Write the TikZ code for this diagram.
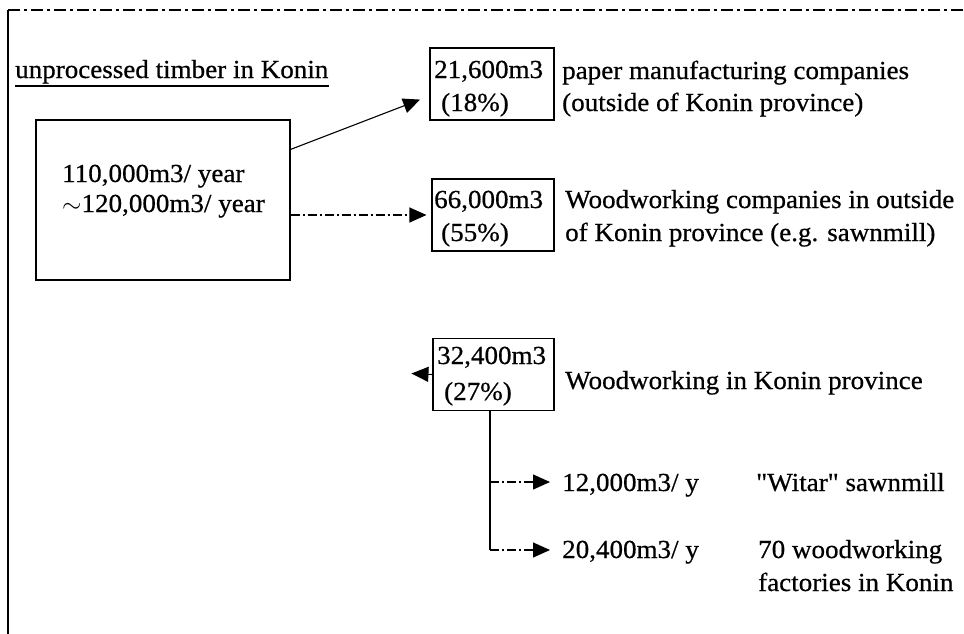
\documentclass[tikz,border=0pt]{standalone}
\usepackage{fontspec}
\setmainfont{Liberation Serif}[FakeStretch=1.04, FakeBold=0.6]
\usetikzlibrary{arrows.meta,calc}
\begin{document}
\begin{tikzpicture}[x=1pt,y=-1pt,
  every node/.style={inner sep=0pt, font=\fontsize{26}{30}\selectfont},
  txt/.style={anchor=base west},
  boxnode/.style={draw, line width=1.1pt, minimum height=72pt},
  tip/.style={-{Triangle[length=17pt,width=15pt]}},
  dsh/.style={dash pattern=on 9pt off 3pt on 2pt off 3pt},
  conn/.style={line width=1.1pt},
  ]
\useasboundingbox (0,0) rectangle (964,634);
% frame lines
\coordinate (tl) at (8,10);
\coordinate (tr) at (964,10);
\coordinate (bl) at (8,634);
\draw[line width=1.2pt, dash pattern=on 12pt off 4pt on 3pt off 4pt] (tl) -- (tr);
\draw[line width=2.6pt] (tl) -- (bl);

% title
\node[txt] (ut) at (15,78) {unprocessed timber in Konin};
\draw[line width=1.1pt] ([yshift=-8pt]ut.base west) -- ([yshift=-8pt]ut.base east);

% main box
\node[draw, line width=1.1pt, minimum width=254pt, minimum height=160pt] (main) at (163,200) {};
\node[txt] (m1) at (62,182) {110,000m3/ year};
\node[txt] (m2) at (62,212) {$\sim$120,000m3/ year};

% boxes
\node[boxnode, minimum width=124pt] (b1) at (492,84) {};
\node[txt] (b1a) at (434,78) {21,600m3};
\node[txt] (b1b) at (441,111) {(18\%)};

\node[boxnode, minimum width=122pt] (b2) at (493,215) {};
\node[txt] (b2a) at (434,208) {66,000m3};
\node[txt] (b2b) at (441,241) {(55\%)};

\node[boxnode, minimum width=121pt] (b3) at (493.5,374.5) {};
\node[txt] (b3a) at (437,364) {32,400m3};
\node[txt] (b3b) at (444,400) {(27\%)};

% right texts
\node[txt] (r1a) at (562,79) {paper manufacturing companies};
\node[txt] (r1b) at (562,111) {(outside of Konin province)};
\node[txt] (r2a) at (565,208) {Woodworking companies in outside};
\node[txt] (r2b) at (565,241) {of Konin province (e.g. sawnmill)};
\node[txt] (r3) at (565,389) {Woodworking in Konin province};

\node[txt] (t1) at (562,491) {12,000m3/ y};
\node[txt] (w1) at (756,491) {{\addfontfeature{Ligatures=TeXOff}"Witar"} sawnmill};
\node[txt] (t2) at (562,558) {20,400m3/ y};
\node[txt] (w2a) at (758,558) {70 woodworking};
\node[txt] (w2b) at (758,591) {factories in Konin};

% connectors
\draw[conn, tip, shorten >=10pt] ($(main.north east)+(0,30)$) -- ($(b1.west)+(0,12)$);
\draw[conn, dsh, tip, shorten >=5pt] (main.east |- b2.west) -- (b2.west);
\draw[conn, tip] (b3.west) -- ++(-21,-1);

\coordinate (j1) at (490,482);
\coordinate (j2) at (490,550);
\draw[conn] (j1 |- b3.south) -- (j2);
\draw[conn, dsh, tip, shorten >=12pt] (j1) -- (t1.west |- j1);
\draw[conn, dsh, tip, shorten >=12pt] (j2) -- (t2.west |- j2);
\end{tikzpicture}
\end{document}
